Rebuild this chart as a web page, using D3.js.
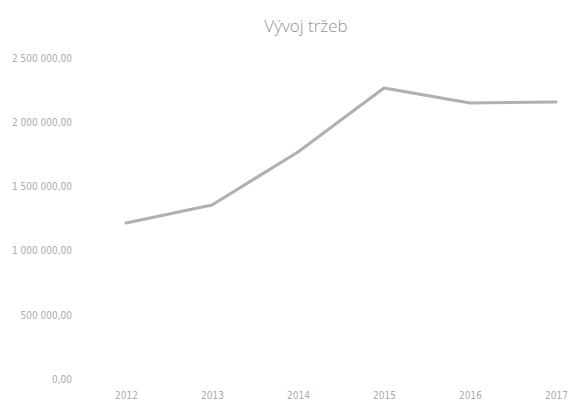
<!DOCTYPE html>
<html>
<head>
<meta charset="utf-8">
<script src="https://cdn.jsdelivr.net/npm/d3@7"></script>
<style>
  body { margin: 0; background: #fff; }
  .tick text { font-family: "Liberation Sans Narrow", "DejaVu Sans Condensed", sans-serif; }
</style>
</head>
<body>
<svg id="chart" width="570" height="412"></svg>
<script>
// data
var years = ["2012", "2013", "2014", "2015", "2016", "2017"];
var revenue = [1215000, 1355000, 1768000, 2266000, 2150000, 2157000];
var yTicks = [0, 500000, 1000000, 1500000, 2000000, 2500000];

var svg = d3.select("#chart");

var cz = d3.formatLocale({decimal: ",", thousands: " ", grouping: [3], currency: ["", " Kč"]});
var fmt = cz.format(",.2f");

var x = d3.scalePoint().domain(years).range([126, 556]);
var y = d3.scaleLinear().domain([0, 2500000]).range([379, 58]);

// title
svg.append("text")
  .attr("x", 306).attr("y", 32)
  .attr("text-anchor", "middle")
  .style("font-family", "'Open Sans', sans-serif")
  .style("font-size", "17px")
  .style("font-weight", 300)
  .style("fill", "#939393")
  .text("Vývoj tržeb");

// y axis, labels only
var yAxis = svg.append("g")
  .attr("transform", "translate(72,0)")
  .call(d3.axisLeft(y).tickValues(yTicks).tickFormat(fmt).tickSize(0).tickPadding(0));
yAxis.select(".domain").remove();
yAxis.selectAll("text").style("font-size", "10px").style("fill", "#ababab");

// x axis, labels only
var xAxis = svg.append("g")
  .attr("transform", "translate(0,392)")
  .call(d3.axisBottom(x).tickSize(0).tickPadding(0));
xAxis.select(".domain").remove();
xAxis.selectAll("text").style("font-size", "10px").style("fill", "#ababab");

// revenue line
var line = d3.line()
  .x(function(d, i) { return x(years[i]); })
  .y(function(d) { return y(d); });

svg.append("path")
  .datum(revenue)
  .attr("d", line)
  .style("fill", "none")
  .style("stroke", "#b0b0b0")
  .style("stroke-width", 3)
  .style("stroke-linejoin", "round")
  .style("stroke-linecap", "round");
</script>
</body>
</html>
